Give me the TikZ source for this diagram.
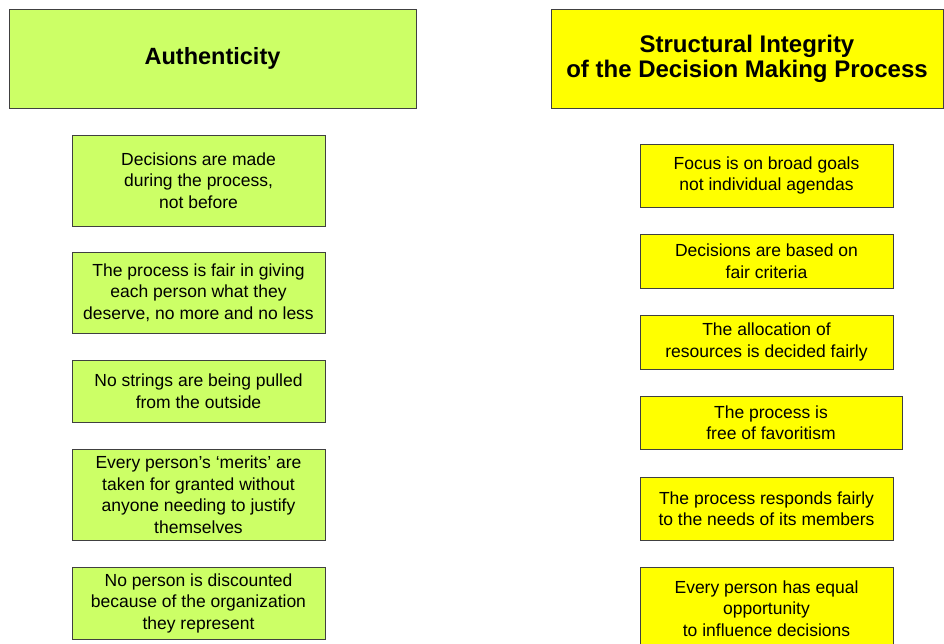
\documentclass[tikz,border=0pt]{standalone}
\usepackage{fontspec}
\setmainfont{Liberation Sans}
\definecolor{limegreen}{RGB}{204,255,102}
\definecolor{brightyellow}{RGB}{255,255,0}
\tikzset{
  box/.style={draw=black!75, line width=0.8pt, align=center, inner sep=0pt,
    minimum width=253pt, font=\fontsize{17.5}{21.5}\selectfont},
  greenbox/.style={box, fill=limegreen},
  yellowbox/.style={box, fill=brightyellow},
  headfont/.style={font=\bfseries\fontsize{#1}{25}\selectfont}
}

\begin{document}
\begin{tikzpicture}[x=1pt, y=-1pt]
  \useasboundingbox (0,0) rectangle (944,643);
  \clip (0,0) rectangle (944,643);

  % headers
  \node[greenbox, headfont=23.5, minimum width=407pt, minimum height=99pt] (auth) at (212.5,58.5) {Authenticity};
  \node[yellowbox, headfont=24, minimum width=392pt, minimum height=99pt] (integ) at (747,58.5) {Structural Integrity\\of the Decision Making Process};

  % left column
  \node[greenbox, minimum height=91pt] (made) at (198.5,180.5) {Decisions are made\\during the process,\\not before};
  \node[greenbox, minimum height=81pt] (fair) at (198.5,292.5) {The process is fair in giving\\each person what they\\deserve, no more and no less};
  \node[greenbox, minimum height=62pt] (strings) at (198.5,391) {No strings are being pulled\\from the outside};
  \node[greenbox, minimum height=91pt] (merits) at (198.5,494.5) {Every person's `merits' are\\taken for granted without\\anyone needing to justify\\themselves};
  \node[greenbox, minimum height=72pt] (discount) at (198.5,603) {No person is discounted\\because of the organization\\they represent};

  % right column
  \node[yellowbox, minimum height=63pt] (goals) at (766.5,175.5) {Focus is on broad goals\\not individual agendas};
  \node[yellowbox, minimum height=54pt] (criteria) at (766.5,261) {Decisions are based on\\fair criteria};
  \node[yellowbox, minimum height=54pt] (alloc) at (766.5,342) {The allocation of\\resources is decided fairly};
  \node[yellowbox, minimum width=262pt, minimum height=53pt] (favor) at (771,422.5) {The process is\\free of favoritism};
  \node[yellowbox, minimum height=63pt] (needs) at (766.5,508.5) {The process responds fairly\\to the needs of its members};
  \node[yellowbox, minimum height=83pt] (equal) at (766.5,608.5) {Every person has equal\\opportunity\\to influence decisions};
\end{tikzpicture}
\end{document}
